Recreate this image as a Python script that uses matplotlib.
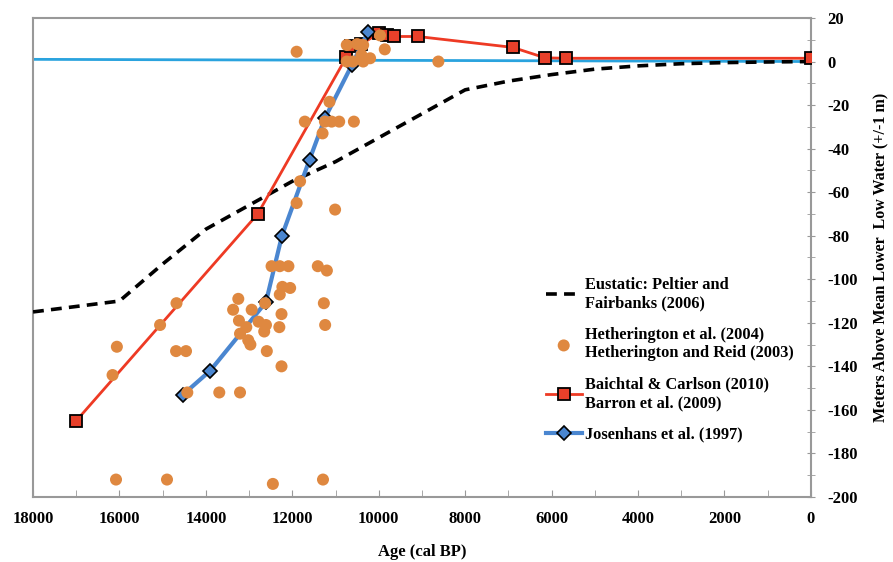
import matplotlib
matplotlib.use("Agg")
import matplotlib.pyplot as plt
from matplotlib.ticker import MultipleLocator

plt.rcParams['font.family'] = ['Liberation Serif', 'DejaVu Serif']
plt.rcParams['font.weight'] = 'bold'
plt.rcParams['axes.unicode_minus'] = False

# Eustatic curve (Peltier and Fairbanks 2006)
eus_age = [18000, 17000, 16000, 15000, 14000, 13000, 12000, 11000, 10000, 9000,
           8000, 7000, 6000, 5000, 4000, 3000, 2000, 1000, 0]
eus_val = [-115, -112.5, -110, -93, -77, -66, -55, -46, -35, -24,
           -13, -9, -6, -3.5, -2, -1, -0.5, -0.2, 0]

# Hetherington data points
het_age = [16080, 14900, 12450, 11290,
           16160, 16060, 15060, 14680, 14690, 14460, 14430, 13690, 13210,
           13250, 13370, 12940, 13235, 13065, 13210, 13020, 12970, 12780, 12610,
           12650, 12630, 12590, 12250, 12300, 12250, 12290, 12230, 12050, 12480,
           12290, 12090, 11410, 11200, 11270, 11240,
           11140, 11710, 11245, 11090, 10915, 10575, 11300, 11820, 11900, 11010,
           11900, 8620, 10740, 10740, 10360, 10200, 9860, 9970, 10400, 10360,
           10500, 10600]
het_val = [-192, -192, -194, -192,
           -144, -131, -121, -111, -133, -133, -152, -152, -152,
           -109, -114, -114, -119, -122, -125, -128, -130, -119.5, -121,
           -124, -111, -133, -140, -122, -116, -107, -103.5, -104, -94,
           -94, -94, -94, -96, -111, -121,
           -18.5, -27.6, -27.6, -27.6, -27.6, -27.6, -33, -55, -65, -68,
           4.5, 0, 7.6, 0, 0, 1.5, 5.6, 12, 3, 7.6,
           8, 0]

# Baichtal & Carlson / Barron
bai_age = [17000, 12800, 10750, 10650, 10400, 10000, 9800, 9650, 9100, 6900, 6150, 5670, 0]
bai_val = [-165, -70, 2, 7, 8, 13, 12, 11.5, 11.5, 6.5, 1.7, 1.5, 1.5]

# Josenhans
jos_age = [14530, 13900, 12610, 12240, 11600, 11245, 10620, 10250]
jos_val = [-153, -142, -110.5, -80, -45, -26, -1.5, 13.5]

# present sea level reference
ref_age = [18000, 0]
ref_val = [1, 0]

fig = plt.figure(figsize=(8.93, 5.62), dpi=100)
ax = fig.add_axes([0.037, 0.1157, 0.871, 0.8523])

ax.plot(ref_age, ref_val, color='#2aa3de', lw=2, zorder=2)
ax.plot(eus_age, eus_val, color='black', lw=2.6, ls=(0, (3, 2)), zorder=3,
        label='Eustatic: Peltier and\nFairbanks (2006)')
ax.plot(bai_age, bai_val, color='#ee3a24', lw=2, marker='s', markersize=9,
        markerfacecolor='#e8402a', markeredgecolor='black', markeredgewidth=1.3,
        zorder=4, label='Baichtal & Carlson (2010)\nBarron et al. (2009)')
ax.plot(jos_age, jos_val, color='#4a86d0', lw=3, marker='D', markersize=7,
        markerfacecolor='#4a86d0', markeredgecolor='black', markeredgewidth=1.2,
        zorder=4, label='Josenhans et al. (1997)')
ax.scatter(het_age, het_val, s=75, color='#df8840', edgecolors='none', zorder=5,
           label='Hetherington et al. (2004)\nHetherington and Reid (2003)')

ax.set_xlim(18000, 0)
ax.set_ylim(-200, 20)
ax.xaxis.set_major_locator(MultipleLocator(2000))
ax.xaxis.set_minor_locator(MultipleLocator(1000))
ax.yaxis.set_major_locator(MultipleLocator(20))
ax.yaxis.set_minor_locator(MultipleLocator(10))
ax.yaxis.tick_right()
ax.yaxis.set_label_position('right')
ax.tick_params(which='both', direction='in', length=5, color='#999999', labelsize=12)
ax.tick_params(axis='y', which='both', direction='inout', length=6, pad=9)
ax.tick_params(axis='x', pad=10)
for s in ax.spines.values():
    s.set_color('#999999')
    s.set_linewidth(1.5)

for lab in ax.get_xticklabels() + ax.get_yticklabels():
    lab.set_fontweight('bold')

ax.set_xlabel('Age (cal BP)', fontsize=12, fontweight='bold', labelpad=12)
ax.set_ylabel('Meters Above Mean Lower  Low Water (+/-1 m)', fontsize=11.5,
              fontweight='bold', rotation=90, labelpad=10)

handles, labels = ax.get_legend_handles_labels()
order = [0, 3, 1, 2]
ax.legend([handles[i] for i in order], [labels[i] for i in order],
          loc='lower right', bbox_to_anchor=(0.997, 0.083), frameon=False,
          handlelength=2.2, handletextpad=0.2, labelspacing=0.95,
          prop={'weight': 'bold', 'size': 11.8})

fig.savefig('out.png', dpi=100)
